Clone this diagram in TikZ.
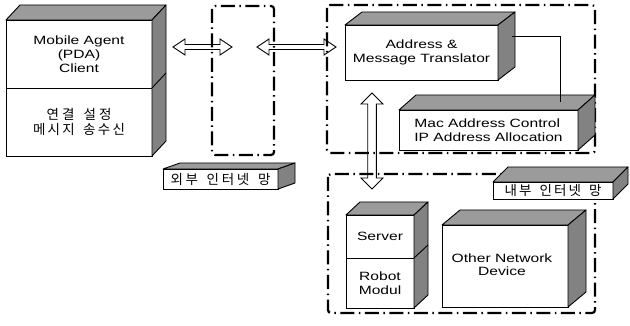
\documentclass[tikz,border=0pt]{standalone}
\usepackage{fontspec}
\setmainfont{Liberation Sans}[FakeStretch=1.3]
\newfontfamily\kr{Noto Sans CJK KR}
\newcommand\g{\hspace{0pt plus 1fil}}
\newcommand\ks{\hspace{6pt plus 1fil}}
\usetikzlibrary{calc}
\definecolor{sidegray}{RGB}{130,130,130}
\definecolor{topgray}{RGB}{155,155,155}
\tikzset{
  front/.style={draw, fill=white, line width=0.9, outer sep=0, inner sep=0,
    anchor=north west, align=center, font=\fontsize{12}{14}\selectfont},
  krtext/.style={font=\kr\fontsize{13.5}{14.5}\selectfont},
  topface/.style={fill=topgray, draw, line width=0.9, line join=round},
  sideface/.style={fill=sidegray, draw, line width=0.9, line join=round},
  netbox/.style={draw, line width=2.2, dash pattern=on 14pt off 4.5pt on 1.5pt off 4.5pt, rounded corners=3},
  arr/.style={draw, line width=0.9, line join=miter},
  wire/.style={draw, line width=0.8},
}
% #1 top node, #2 bottom node, #3 dx, #4 dy
\newcommand\threed[4]{%
  \filldraw[topface] (#1.north west) -- ++(#3,-#4) -- ($(#1.north east)+(#3,-#4)$) -- (#1.north east) -- cycle;
  \filldraw[sideface] (#1.north east) -- ++(#3,-#4) -- ($(#2.south east)+(#3,-#4)$) -- (#2.south east) -- cycle;
}
\newcommand\harrow[2]{%
  \draw[arr] (#1) -- ($(#1)+(12,-8)$) -- ($(#1)+(12,-2.5)$) -- ($(#2)+(-12,-2.5)$) -- ($(#2)+(-12,-8)$) -- (#2)
    -- ($(#2)+(-12,8)$) -- ($(#2)+(-12,2.5)$) -- ($(#1)+(12,2.5)$) -- ($(#1)+(12,8)$) -- cycle;
}
\newcommand\varrow[2]{%
  \draw[arr] (#1) -- ($(#1)+(-11,11)$) -- ($(#1)+(-4.3,11)$) -- ($(#2)+(-4.3,-11)$) -- ($(#2)+(-11,-11)$) -- (#2)
    -- ($(#2)+(11,-11)$) -- ($(#2)+(4.3,-11)$) -- ($(#1)+(4.3,11)$) -- ($(#1)+(11,11)$) -- cycle;
}
\begin{document}
\begin{tikzpicture}[x=1pt, y=-1pt]
\useasboundingbox (0,0) rectangle (630,326);
\fill[white] (0,0) rectangle (630,326);

% arrows
\coordinate (a1l) at (173,47);
\coordinate (a1r) at (232,47);
\coordinate (a2l) at (257,47);
\coordinate (a2r) at (336,47);
\coordinate (vt) at (372,93);
\coordinate (vb) at (372,189);
\harrow{a1l}{a1r}
\harrow{a2l}{a2r}
\varrow{vt}{vb}

% network regions
\draw[netbox] (212,6) rectangle (274,155);
\draw[netbox] (327,5) rectangle (595,153);
\draw[netbox] (328,174) rectangle (595,313);

% Mobile agent
\node[front, minimum width=146, minimum height=68] (ma1) at (6,20) {Mobile Agent\\(PDA)\\Client};
\node[front, minimum width=146, minimum height=68, krtext] (ma2) at (6,88)
  {\makebox[65pt][s]{연\g 결\ks 설\g 정}\\\makebox[92pt][s]{메\g 시\g 지\ks 송\g 수\g 신}};
\threed{ma1}{ma2}{14}{15}
\draw[line width=0.9] (ma1.south east) -- ++(14,-15);

% Address & Message Translator
\node[front, minimum width=153, minimum height=55] (amt) at (345,25) {Address \&\\Message Translator};
\threed{amt}{amt}{17}{13}

% Mac address
\node[front, minimum width=179, minimum height=40, align=left] (mac) at (399,110) {Mac Address Control\\IP Address Allocation};
\threed{mac}{mac}{17}{15}

% connector
\coordinate (w1) at (512,36);
\coordinate (w2) at (560,102);
\draw[wire] (w1) -| (w2);

% Server / Robot
\node[front, minimum width=68, minimum height=43] (srv) at (346,215) {Server};
\node[front, minimum width=68, minimum height=50] (rob) at (346,258) {Robot\\Modul};
\threed{srv}{rob}{14}{13}
\draw[line width=0.9] (srv.south east) -- ++(14,-13);

% Other network device
\node[front, minimum width=126, minimum height=82] (ond) at (442,225) {};
\threed{ond}{ond}{18}{15}
\node[align=center, inner sep=0, font=\fontsize{12}{13}\selectfont] (ondt) at (502,265) {Other Network\\Device};

% labels
\node[front, minimum width=115, minimum height=20, krtext] (ext) at (163,169)
  {\makebox[100pt][s]{외\g 부\ks 인\g 터\g 넷\ks 망}};
\threed{ext}{ext}{17}{6}
\node[front, minimum width=120, minimum height=17, krtext] (int) at (493,182)
  {\makebox[97pt][s]{내\g 부\ks 인\g 터\g 넷\ks 망}};
\threed{int}{int}{15}{15}
\end{tikzpicture}
\end{document}
